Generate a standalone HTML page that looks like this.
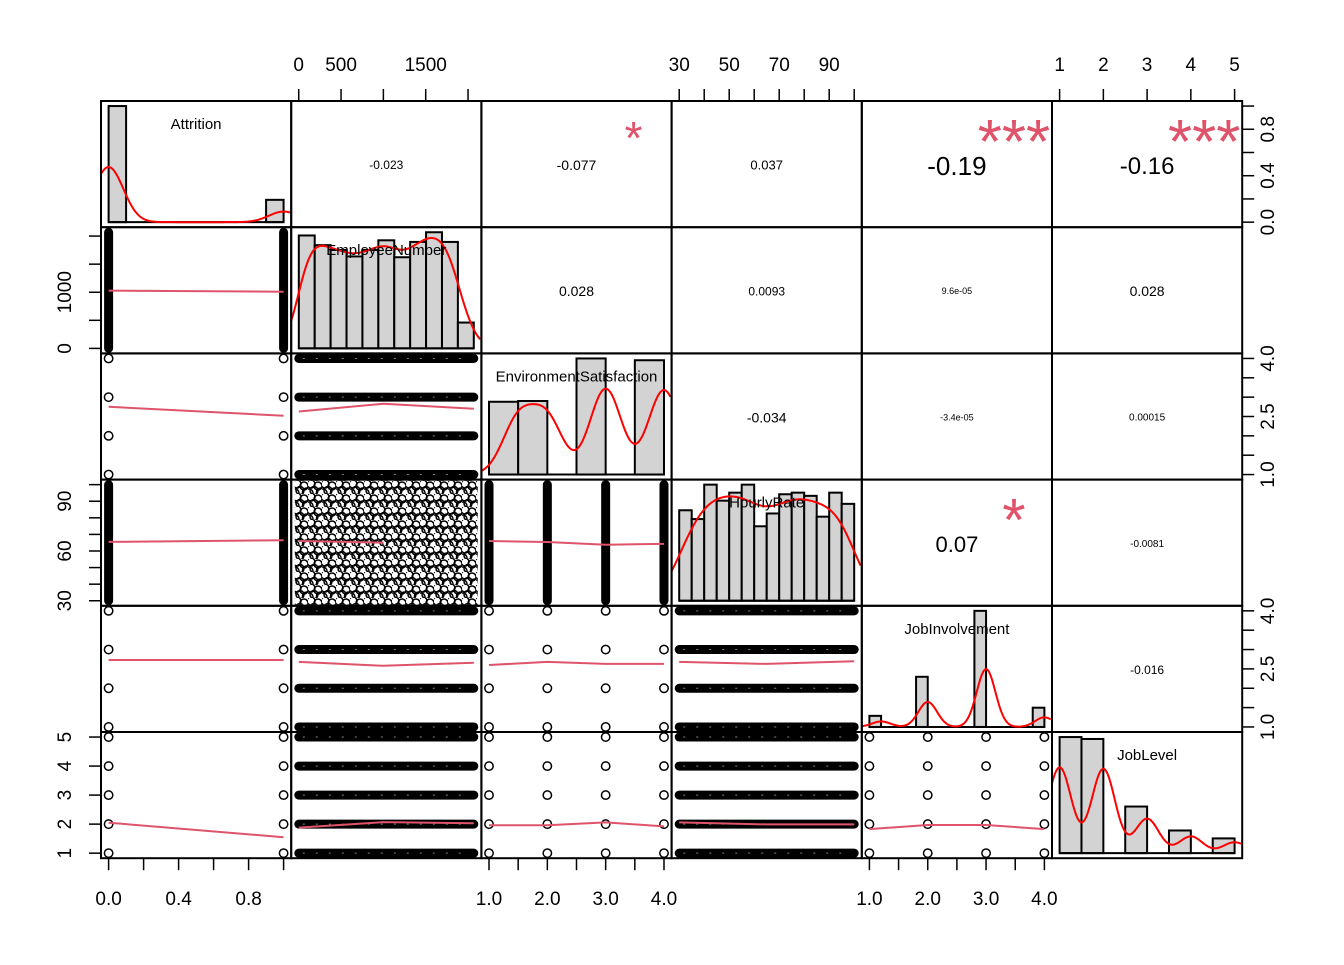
<!DOCTYPE html>
<html><head><meta charset="utf-8"><style>
html,body{margin:0;padding:0;background:#fff}
svg text{font-family:"Liberation Sans",Arial,sans-serif}
</style></head><body>
<svg id="chart" width="1344" height="960" viewBox="0 0 1344 960" xmlns="http://www.w3.org/2000/svg">
<defs>
<pattern id="cloud" width="14" height="13" patternUnits="userSpaceOnUse">
<circle cx="3" cy="3" r="4" fill="none" stroke="#000" stroke-width="1.5"/>
<circle cx="10" cy="5" r="4" fill="none" stroke="#000" stroke-width="1.5"/>
<circle cx="6" cy="9.5" r="4" fill="none" stroke="#000" stroke-width="1.5"/>
<circle cx="12.5" cy="11" r="4" fill="none" stroke="#000" stroke-width="1.5"/>
<circle cx="1" cy="12" r="4" fill="none" stroke="#000" stroke-width="1.5"/>
</pattern>
</defs>
<g id="layer"></g>
</svg>
<script>
// ---- data ----
const varNames = ["Attrition","EmployeeNumber","EnvironmentSatisfaction","HourlyRate","JobInvolvement","JobLevel"];
const varMin = [0, 1, 1, 30, 1, 1];
const varMax = [1, 2068, 4, 100, 4, 5];
const isDiscrete = [true, false, true, false, true, true];
const levels = [[0,1], null, [1,2,3,4], null, [1,2,3,4], [1,2,3,4,5]];
// histogram bins and counts
const histEdgesAttr = [0,0.1,0.9,1.0];
const histCountsAttr = [1233,0,237];
const histEdgesEmp = [0,200,400,600,800,1000,1200,1400,1600,1800,2000,2200];
const histCountsEmp = [140,128,122,114,122,134,113,132,144,132,32];
const histEdgesEnv = [1,1.5,2,2.5,3,3.5,4];
const histCountsEnv = [284,287,0,453,0,446];
const histEdgesHr = [30,35,40,45,50,55,60,65,70,75,80,85,90,95,100];
const histCountsHr = [113,102,145,125,135,145,93,109,133,135,131,105,135,121];
const histEdgesInv = [1,1.2,1.4,1.6,1.8,2,2.2,2.4,2.6,2.8,3,3.2,3.4,3.6,3.8,4];
const histCountsInv = [83,0,0,0,375,0,0,0,0,868,0,0,0,0,144];
const histEdgesLvl = [1,1.5,2,2.5,3,3.5,4,4.5,5];
const histCountsLvl = [543,534,0,218,0,106,0,69];
const densityBw = [0.084, 150, 0.27, 7, 0.16, 0.27];
// correlations
const corrValues = ["-0.023","-0.077","0.037","-0.19","-0.16","0.028","0.0093","9.6e-05","0.028","-0.034","-3.4e-05","0.00015","0.07","-0.0081","-0.016"];
const corrStars = ["","*","","***","***","","","","","","","","*","",""];
const corrFont = [12,14,13,26,24,14,12,9,14,14,9,10,22,10,12];
// smoother lines (x values in x-variable units, y in y-variable units), keyed "row-col"
const smoothX = {"2-1":[0,1],"3-1":[0,1],"3-2":[1,1000,2068],"4-1":[0,1],"4-2":[1,1000,2068],"4-3":[1,2,3,4],
 "5-1":[0,1],"5-2":[1,1000,2068],"5-3":[1,2,3,4],"5-4":[30,65,100],"6-1":[0,1],"6-2":[1,1000,2068],"6-3":[1,2,3,4],"6-4":[30,65,100],"6-5":[1,2,3,4]};
const smoothY = {"2-1":[1030,1010],"3-1":[2.75,2.52],"3-2":[2.63,2.83,2.7],"4-1":[65.5,66.5],"4-2":[66,65],"4-3":[66,65.4,63.8,64.3],
 "5-1":[2.73,2.73],"5-2":[2.68,2.58,2.66],"5-3":[2.6,2.68,2.63,2.63],"5-4":[2.68,2.63,2.7],"6-1":[2.05,1.55],"6-2":[1.88,2.07,2.03],"6-3":[1.96,1.96,2.06,1.92],"6-4":[2.06,1.99,1.99,2.03],"6-5":[1.83,1.97,1.97,1.83]};
const tickVals = [[0,0.2,0.4,0.6,0.8,1.0],[0,500,1000,1500,2000],[1,1.5,2,2.5,3,3.5,4],[30,40,50,60,70,80,90,100],[1,1.5,2,2.5,3,3.5,4],[1,2,3,4,5]];
const xTickLabels = [["0.0","0.4","0.8"],["0","500","1500"],["1.0","2.0","3.0","4.0"],["30","50","70","90"],["1.0","2.0","3.0","4.0"],["1","2","3","4","5"]];
const xTickLabelVals = [[0,0.4,0.8],[0,500,1500],[1,2,3,4],[30,50,70,90],[1,2,3,4],[1,2,3,4,5]];
const yTickLabels = [["0.0","0.4","0.8"],["0","1000"],["1.0","2.5","4.0"],["30","60","90"],["1.0","2.5","4.0"],["1","2","3","4","5"]];
const yTickLabelVals = [[0,0.4,0.8],[0,1000],[1,2.5,4],[30,60,90],[1,2.5,4],[1,2,3,4,5]];

// ---- layout ----
const X0=101, W=190.2, Y0=101, H=126.2, N=6;
const NS="http://www.w3.org/2000/svg";
const layer=document.getElementById('layer');
function mk(tag, attrs, parent){const e=document.createElementNS(NS,tag);for(const k in attrs)e.setAttribute(k,attrs[k]);(parent||layer).appendChild(e);return e;}
function px(j,v){const l=X0+j*W, pad=W*0.04;return l+pad+(v-varMin[j])/(varMax[j]-varMin[j])*(W-2*pad);}
function py(i,v){const t=Y0+i*H, b=t+H, pad=H*0.04;return b-pad-(v-varMin[i])/(varMax[i]-varMin[i])*(H-2*pad);}
const RED="#DF536B";

const defs=document.querySelector('defs');
for(let i=0;i<N;i++){const cp=mk('clipPath',{id:'clip'+i},defs);mk('rect',{x:X0+i*W,y:Y0+i*H,width:W,height:H},cp);}

// diagonal histograms
const hists=[[histEdgesAttr,histCountsAttr],[histEdgesEmp,histCountsEmp],[histEdgesEnv,histCountsEnv],[histEdgesHr,histCountsHr],[histEdgesInv,histCountsInv],[histEdgesLvl,histCountsLvl]];
const histLo=[0,0,1,30,1,1], histHi=[1,2200,4,100,4,5];
for(let k=0;k<N;k++){
  const [edges,counts]=hists[k];
  const l=X0+k*W, pad=W*0.04, t=Y0+k*H, bottom=t+H-H*0.04, top=t+H*0.04;
  const hx=v=>l+pad+(v-histLo[k])/(histHi[k]-histLo[k])*(W-2*pad);
  const total=counts.reduce((a,b)=>a+b,0);
  let maxD=0; const dens=counts.map((c,m)=>{const d=c/total/(edges[m+1]-edges[m]);maxD=Math.max(maxD,d);return d;});
  const sc=(bottom-top)/maxD;
  const g=mk('g',{});
  
  
  dens.forEach((d,m)=>{ if(counts[m]===0) return;
    const r=mk('rect',{x:hx(edges[m]),y:bottom-d*sc,width:hx(edges[m+1])-hx(edges[m]),height:d*sc,fill:'#D3D3D3',stroke:'#000','stroke-width':2},g);
    
    
  });
  mk('line',{x1:hx(edges[0]),x2:hx(edges[edges.length-1]),y1:bottom,y2:bottom,stroke:'#000','stroke-width':2},g);
  const bw=densityBw[k]; let pts=[];
  for(let xp=l;xp<=l+W;xp+=1.5){
    const v=histLo[k]+(xp-l-pad)/(W-2*pad)*(histHi[k]-histLo[k]);
    let s=0;
    counts.forEach((c,m)=>{ if(!c)return; let c0=(edges[m]+edges[m+1])/2;
      if(isDiscrete[k]) c0 = (k===0? (m===0?0:1) : edges[m+1]);
      if(k===5 && m===0) c0=1;
      const z=(v-c0)/bw; s+=c/total*Math.exp(-z*z/2)/(Math.sqrt(2*Math.PI)*bw);});
    pts.push(xp.toFixed(1)+','+(bottom-s*sc).toFixed(1));
  }
  const dl=mk('polyline',{points:pts.join(' '),fill:'none',stroke:'#FF0000','stroke-width':2,'clip-path':'url(#clip'+k+')'},g);
  
  
  const tx=mk('text',{x:l+W/2,y:t+28,'font-size':15,'text-anchor':'middle',fill:'#000'},g);
  tx.textContent=varNames[k];
  
  
}

// upper correlations
let ci=0;
for(let i=0;i<N;i++)for(let j=i+1;j<N;j++){
  const cx=X0+j*W+W/2, cy=Y0+i*H+H/2;
  const t=mk('text',{x:cx,y:cy+corrFont[ci]*0.42,'font-size':corrFont[ci],'text-anchor':'middle',fill:'#000'});
  t.textContent=corrValues[ci];
  
  
  const st=corrStars[ci];
  if(st){
    const fs=st.length===3?62:(i===0?46:60);
    const sx= X0+j*W+W*0.8;
    const s=mk('text',{x:sx,y:Y0+i*H+H*0.22+fs*0.55,'font-size':fs,'text-anchor':'middle',fill:RED});
    s.textContent=st;
    
    
  }
  ci++;
}

// lower scatter panels
for(let i=1;i<N;i++)for(let j=0;j<i;j++){
  const g=mk('g',{});
  
  
  const xl=levels[j], yl=levels[i];
  if(xl&&yl){
    xl.forEach(a=>yl.forEach(b=>{mk('circle',{cx:px(j,a),cy:py(i,b),r:4.2,fill:'none',stroke:'#000','stroke-width':1.5},g);}));
  } else if(xl&&!yl){
    xl.forEach(a=>{const x=px(j,a);mk('line',{x1:x,x2:x,y1:py(i,varMax[i]),y2:py(i,varMin[i]),stroke:'#000','stroke-width':9,'stroke-linecap':'round'},g);});
  } else if(!xl&&yl){
    yl.forEach(b=>{const y=py(i,b);mk('line',{x1:px(j,varMin[j]),x2:px(j,varMax[j]),y1:y,y2:y,stroke:'#000','stroke-width':9,'stroke-linecap':'round'},g);
      mk('line',{x1:px(j,varMin[j])+4,x2:px(j,varMax[j])-4,y1:y,y2:y,stroke:'#fff','stroke-width':1,'stroke-dasharray':'2 11','opacity':0.5},g);});
  } else {
    mk('rect',{x:px(j,varMin[j])-4,y:py(i,varMax[i])-4,width:px(j,varMax[j])-px(j,varMin[j])+8,height:py(i,varMin[i])-py(i,varMax[i])+8,fill:'url(#cloud)'},g);
  }
  const key=(i+1)+'-'+(j+1);
  const sxv=smoothX[key], syv=smoothY[key];
  const sl=mk('polyline',{points:sxv.map((v,m)=>px(j,v).toFixed(1)+','+py(i,syv[m]).toFixed(1)).join(' '),fill:'none',stroke:RED,'stroke-width':2},g);
  
  
}

// panel borders
for(let i=0;i<N;i++)for(let j=0;j<N;j++){
  const r=mk('rect',{x:X0+j*W,y:Y0+i*H,width:W,height:H,fill:'none',stroke:'#000','stroke-width':2});
  
  
}

// axes
const TL=12, FS=19;
for(let k=0;k<N;k++){
  const g=mk('g',{});
  
  
  const top=(k%2===1);
  const ybase= top? Y0 : Y0+N*H;
  tickVals[k].forEach(v=>{const x=px(k,v);mk('line',{x1:x,x2:x,y1:ybase,y2:top?ybase-TL:ybase+TL,stroke:'#000','stroke-width':1.5},g);});
  xTickLabelVals[k].forEach((v,m)=>{const t=mk('text',{x:px(k,v),y:top?71:905,'font-size':FS,'text-anchor':'middle'},g);t.textContent=xTickLabels[k][m];});
  const left=(k%2===1);
  const xbase= left? X0 : X0+N*W;
  tickVals[k].forEach(v=>{const y=py(k,v);mk('line',{x1:xbase,x2:left?xbase-TL:xbase+TL,y1:y,y2:y,stroke:'#000','stroke-width':1.5},g);});
  yTickLabelVals[k].forEach((v,m)=>{const y=py(k,v);const lx=left?71:1274;
    const t=mk('text',{x:lx,y:y,'font-size':FS,'text-anchor':'middle',transform:'rotate(-90 '+lx+' '+y+')'},g);t.textContent=yTickLabels[k][m];});
}
</script>
</body></html>
